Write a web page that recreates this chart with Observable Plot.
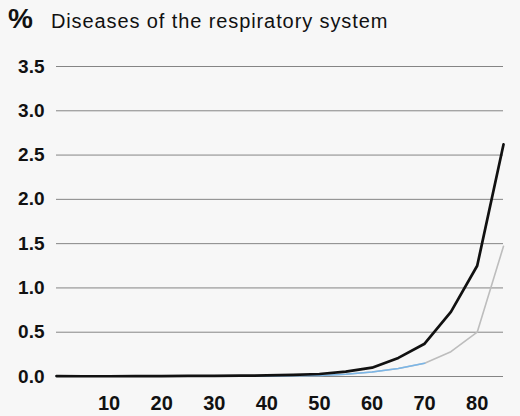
<!DOCTYPE html>
<html>
<head>
<meta charset="utf-8">
<script src="https://cdn.jsdelivr.net/npm/d3@7"></script>
<script src="https://cdn.jsdelivr.net/npm/@observablehq/plot@0.6"></script>
<style>
  html, body { margin: 0; padding: 0; background: #f7f7f7; }
  #wrap { width: 520px; height: 416px; position: relative; overflow: hidden; background: #f7f7f7; }
  #title { position: absolute; left: 8px; top: 3px; height: 36px; white-space: nowrap; font-family: "Liberation Sans", Arial, sans-serif; color: #111; }
  #title .pct { font-weight: bold; font-size: 28px; vertical-align: baseline; }
  #title .txt { font-size: 20px; margin-left: 18px; letter-spacing: 0.9px; }
  #chart { position: absolute; left: 0; top: 40px; }
</style>
</head>
<body>
<div id="wrap">
  <div id="title"><span class="pct">%</span><span class="txt">Diseases of the respiratory system</span></div>
  <div id="chart"></div>
</div>
<script>
const ages = [0, 5, 10, 15, 20, 25, 30, 35, 40, 45, 50, 55, 60, 65, 70, 75, 80, 85];
const darkSeries = [0.005, 0.003, 0.003, 0.004, 0.005, 0.006, 0.007, 0.009, 0.012, 0.018, 0.028, 0.055, 0.10, 0.21, 0.37, 0.73, 1.25, 2.62];
const lightSeries = [0.003, 0.002, 0.002, 0.003, 0.003, 0.004, 0.004, 0.005, 0.006, 0.008, 0.012, 0.025, 0.05, 0.09, 0.15, 0.28, 0.50, 1.47];
const yTicks = [0, 0.5, 1, 1.5, 2, 2.5, 3, 3.5];
const xTicks = [10, 20, 30, 40, 50, 60, 70, 80];

const dark = ages.map((a, i) => ({age: a, v: darkSeries[i]}));
const light = ages.map((a, i) => ({age: a, v: lightSeries[i]}));
const lightLow = light.filter(d => d.age <= 70);

const chart = Plot.plot({
  width: 520,
  height: 376,
  marginLeft: 56,
  marginRight: 17,
  marginTop: 26,
  marginBottom: 40,
  style: {background: "transparent", fontFamily: "'Liberation Sans', Arial, sans-serif", color: "#111"},
  x: {domain: [0, 85]},
  y: {domain: [0, 3.5]},
  marks: [
    Plot.ruleY(yTicks, {stroke: "#858585", strokeWidth: 1}),
    Plot.axisY(yTicks, {tickSize: 0, tickPadding: 12, tickFormat: d => d.toFixed(1), fontSize: 19, fontWeight: "bold", label: null}),
    Plot.axisX(xTicks, {tickSize: 0, tickPadding: 19, fontSize: 20, fontWeight: "bold", label: null, style: {letterSpacing: "1px"}}),
    Plot.line(light, {x: "age", y: "v", stroke: "#bdbdbd", strokeWidth: 1.6}),
    Plot.line(lightLow, {x: "age", y: "v", stroke: "#7ab6e8", strokeWidth: 1.6}),
    Plot.line(dark, {x: "age", y: "v", stroke: "#111", strokeWidth: 2.7})
  ]
});
document.getElementById("chart").appendChild(chart);
</script>
</body>
</html>
